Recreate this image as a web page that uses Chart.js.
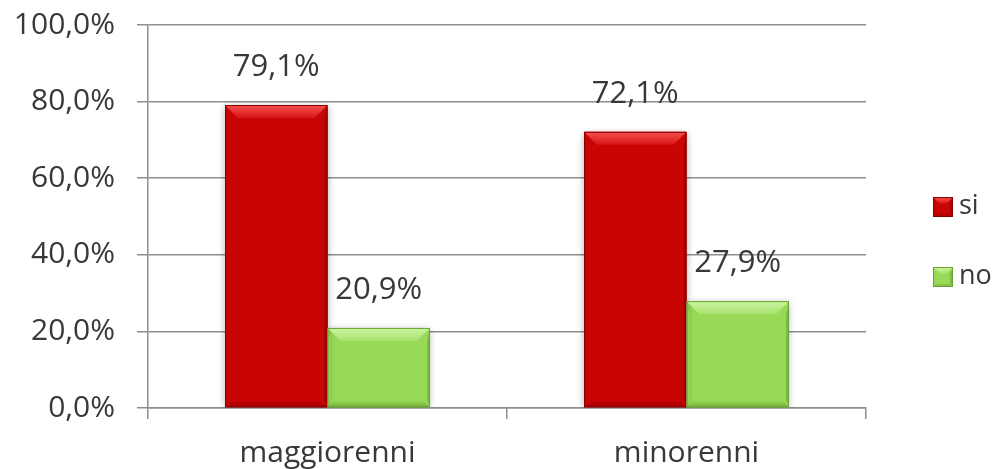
<!DOCTYPE html>
<html>
<head>
<meta charset="utf-8">
<title>si / no</title>
<script src="https://cdn.jsdelivr.net/npm/chart.js@4.4.1/dist/chart.umd.min.js"></script>
<style>
  html, body { margin: 0; padding: 0; background: #ffffff; }
  #wrap { width: 1000px; height: 469px; position: relative; }
</style>
</head>
<body>
<div id="wrap"><canvas id="chart" width="1000" height="469"></canvas></div>
<script>
// Categories, series and tick values
const categories = ['maggiorenni', 'minorenni'];
const seriesNames = ['si', 'no'];
const siValues = [79.1, 72.1];
const noValues = [20.9, 27.9];
const yTickValues = [0, 20, 40, 60, 80, 100];

const FONT = "'Open Sans', 'DejaVu Sans', sans-serif";
const TEXT_COLOR = '#383838';
const LINE_COLOR = '#8e8e8e';

// Face and bevel shades for each series
const palettes = [
  { face: '#c80404', topA: '#f65252', topB: '#d81414', bottom: '#a00000', left: '#c40404', right: '#a80000', edge: '#8a0000' },
  { face: '#98da58', topA: '#cdf4a4', topB: '#a8e26e', bottom: '#74ae38', left: '#94d654', right: '#7cbc42', edge: '#6aa232' }
];

const fmt = v => v.toFixed(1).replace('.', ',') + '%';

function poly(ctx, pts, fill) {
  ctx.beginPath();
  ctx.moveTo(pts[0][0], pts[0][1]);
  for (let i = 1; i < pts.length; i++) ctx.lineTo(pts[i][0], pts[i][1]);
  ctx.closePath();
  ctx.fillStyle = fill;
  ctx.fill();
}

// Angled bevel over a rectangular bar face
function bevel(ctx, l, t, r, b, pal, st, ss, sb) {
  const h = b - t;
  st = Math.min(st, h / 3);
  sb = Math.min(sb, h / 4);
  const g = ctx.createLinearGradient(0, t, 0, t + st);
  g.addColorStop(0, pal.topA);
  g.addColorStop(1, pal.topB);
  const gb = ctx.createLinearGradient(0, b - sb, 0, b);
  gb.addColorStop(0, pal.face);
  gb.addColorStop(1, pal.bottom);
  poly(ctx, [[l + sb, b - sb], [r - sb, b - sb], [r, b], [l, b]], gb);
  poly(ctx, [[l, t], [l + ss, t + st], [l + ss, b - sb], [l, b]], pal.left);
  poly(ctx, [[r, t], [r - ss, t + st], [r - ss, b - sb], [r, b]], pal.right);
  poly(ctx, [[l, t], [r, t], [r - st, t + st], [l + st, t + st]], g);
  ctx.strokeStyle = pal.edge;
  ctx.lineWidth = 1;
  ctx.strokeRect(l + 0.5, t + 0.5, r - l - 1, b - t - 1);
}

const barStyle = {
  id: 'barStyle',
  beforeDatasetsDraw(chart) {
    const ctx = chart.ctx;
    ctx.save();
    ctx.shadowColor = 'rgba(0,0,0,0.3)';
    ctx.shadowBlur = 7;
    ctx.shadowOffsetX = 0;
    ctx.shadowOffsetY = 1;
  },
  afterDatasetsDraw(chart) {
    const ctx = chart.ctx;
    ctx.restore();
    chart.data.datasets.forEach((ds, di) => {
      const meta = chart.getDatasetMeta(di);
      meta.data.forEach((el, i) => {
        const p = el.getProps(['x', 'y', 'base', 'width'], true);
        const l = p.x - p.width / 2, r = p.x + p.width / 2;
        bevel(ctx, l, p.y, r, p.base, palettes[di], 13, 3, 7);
        // value label above the bar
        ctx.save();
        ctx.font = '31px ' + FONT;
        ctx.fillStyle = TEXT_COLOR;
        ctx.textAlign = 'center';
        ctx.textBaseline = 'middle';
        ctx.fillText(fmt(ds.data[i]), p.x, p.y - 38);
        ctx.restore();
      });
    });
  }
};

const sideLegend = {
  id: 'sideLegend',
  afterDraw(chart) {
    const ctx = chart.ctx;
    const boxX = 933, box = 20, gap = 70;
    const midY = 242;
    chart.data.datasets.forEach((ds, di) => {
      const cy = midY + (di - (chart.data.datasets.length - 1) / 2) * gap;
      const pal = palettes[di];
      ctx.fillStyle = pal.face;
      ctx.fillRect(boxX, cy - box / 2, box, box);
      bevel(ctx, boxX, cy - box / 2, boxX + box, cy + box / 2, pal, 7, 3, 4);
      ctx.font = '27px ' + FONT;
      ctx.fillStyle = TEXT_COLOR;
      ctx.textAlign = 'left';
      ctx.textBaseline = 'middle';
      ctx.fillText(ds.label, boxX + box + 6, cy - 1);
    });
  }
};

new Chart(document.getElementById('chart'), {
  type: 'bar',
  data: {
    labels: categories,
    datasets: [
      { label: seriesNames[0], data: siValues, backgroundColor: palettes[0].face, borderWidth: 0 },
      { label: seriesNames[1], data: noValues, backgroundColor: palettes[1].face, borderWidth: 0 }
    ]
  },
  options: {
    responsive: false,
    animation: false,
    devicePixelRatio: 1,
    layout: { padding: { top: 25, right: 134, left: 0, bottom: 0 } },
    datasets: { bar: { categoryPercentage: 0.571, barPercentage: 1.0 } },
    plugins: {
      legend: { display: false },
      tooltip: { enabled: false }
    },
    scales: {
      x: {
        afterFit(scale) {
          scale.height = 61;
          scale.paddingLeft = 0;
          scale.paddingRight = 0;
        },
        grid: {
          offset: true,
          drawOnChartArea: false,
          drawTicks: true,
          tickLength: 11,
          color: LINE_COLOR,
          lineWidth: 1.5
        },
        border: { display: true, color: LINE_COLOR, width: 1.5 },
        ticks: {
          font: { family: FONT, size: 30 },
          color: TEXT_COLOR,
          padding: 16
        }
      },
      y: {
        min: 0,
        max: 100,
        afterFit(scale) {
          scale.width = 148;
          scale.paddingTop = 0;
          scale.paddingBottom = 0;
        },
        afterBuildTicks(scale) { scale.ticks = yTickValues.map(v => ({ value: v })); },
        grid: {
          drawTicks: true,
          tickLength: 11,
          color: LINE_COLOR,
          lineWidth: 1.5
        },
        border: { display: true, color: LINE_COLOR, width: 1.5 },
        ticks: {
          font: { family: FONT, size: 30 },
          color: TEXT_COLOR,
          padding: 22,
          callback: v => fmt(v)
        }
      }
    }
  },
  plugins: [barStyle, sideLegend]
});
</script>
</body>
</html>
